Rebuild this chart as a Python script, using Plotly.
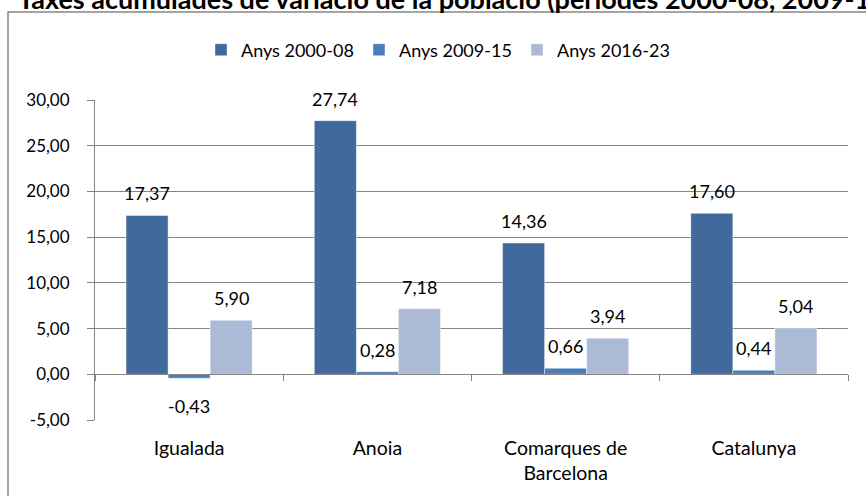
import plotly.graph_objects as go

categories = ["Igualada", "Anoia", "Comarques de<br>Barcelona", "Catalunya"]
series_names = ["Anys 2000-08", "Anys 2009-15", "Anys 2016-23"]
values_2000_08 = [17.37, 27.74, 14.36, 17.60]
values_2009_15 = [-0.43, 0.28, 0.66, 0.44]
values_2016_23 = [5.90, 7.18, 3.94, 5.04]
y_tick_values = [-5, 0, 5, 10, 15, 20, 25, 30]
y_tick_labels = ["-5,00", "0,00", "5,00", "10,00", "15,00", "20,00", "25,00", "30,00"]
title_text = "Taxes acumulades de variació de la població (períodes 2000-08, 2009-15 i 2016-23)"

colors = ["#41699C", "#4A7EBB", "#AABAD7"]
FONT = "Lato"
BARGAP = 0.33

series = [values_2000_08, values_2009_15, values_2016_23]
xs = list(range(len(categories)))

fig = go.Figure()
for name, vals, col in zip(series_names, series, colors):
    fig.add_trace(go.Bar(x=xs, y=vals, name=name, marker_color=col,
                         marker_line_width=0.6, marker_line_color="rgba(255,255,255,0.7)"))

def fmt(v):
    return f"{v:.2f}".replace(".", ",")

w = (1 - BARGAP) / len(series)
annotations = []
for k, vals in enumerate(series):
    for i, v in enumerate(vals):
        annotations.append(dict(
            x=i + (k - (len(series) - 1) / 2) * w, y=v, xref="x", yref="y",
            text=fmt(v), showarrow=False, yanchor="middle",
            yshift=22 if v >= 0 else -28,
            font=dict(family=FONT, size=18, color="#000000")))

# invisible overlay axis for the category-boundary ticks on the zero line
fig.add_trace(go.Scatter(x=[-0.5, 3.5], y=[0, 0], xaxis="x2", mode="none",
                         showlegend=False, hoverinfo="skip"))

fig.update_layout(
    width=866, height=496,
    margin=dict(l=95, r=18, t=100, b=76),
    paper_bgcolor="white", plot_bgcolor="white",
    barmode="group", bargap=BARGAP, bargroupgap=0,
    font=dict(family=FONT, size=18, color="#000000"),
    title=dict(text=title_text, x=18 / 866, xanchor="left", xref="container",
               y=1.0, yanchor="middle", yref="container",
               font=dict(family=FONT, size=27, color="#000000", weight="bold")),
    showlegend=True,
    legend=dict(orientation="h", x=(201 - 95) / 753, xanchor="left",
                y=(420 - 50) / 320, yanchor="middle",
                font=dict(family=FONT, size=18), entrywidth=113,
                bgcolor="rgba(0,0,0,0)", traceorder="normal"),
    xaxis=dict(range=[-0.5, 3.5], tickvals=xs, ticktext=categories,
               showgrid=False, zeroline=False, showline=False, ticks="",
               ticklabelstandoff=14, tickfont=dict(family=FONT, size=19.5)),
    xaxis2=dict(range=[-0.5, 3.5], overlaying="x", anchor="free",
                position=(0 - y_tick_values[0]) / (y_tick_values[-1] - y_tick_values[0]),
                side="bottom",
                tickvals=[-0.5, 0.5, 1.5, 2.5, 3.5], showticklabels=False,
                ticks="outside", ticklen=6, tickcolor="#868686",
                showline=True, linecolor="#868686", linewidth=1,
                showgrid=False, zeroline=False),
    yaxis=dict(range=[-5, 30], tickvals=y_tick_values, ticktext=y_tick_labels,
               showgrid=True, gridcolor="#868686", gridwidth=1,
               showline=True, linecolor="#868686", linewidth=1,
               ticks="outside", ticklen=7, tickcolor="#868686",
               ticklabelstandoff=14, zeroline=False,
               tickfont=dict(family=FONT, size=17)),
    annotations=annotations,
    shapes=[dict(type="rect", xref="paper", yref="paper",
                 x0=(8 - 95) / 753, x1=1.2, y0=-0.5, y1=(420 - 12) / 320,
                 line=dict(color="#868686", width=1.5), fillcolor="rgba(0,0,0,0)",
                 layer="below")],
)

fig.write_html("out.html", config={"displayModeBar": False},
               post_script="document.body.style.margin='0';")
